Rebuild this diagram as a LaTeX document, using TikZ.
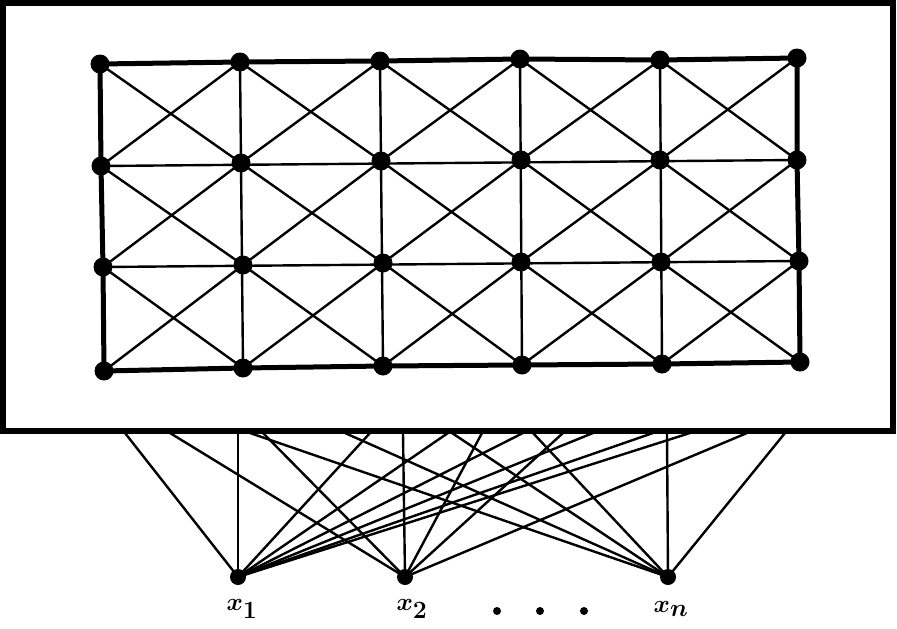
\documentclass[tikz,border=0pt]{standalone}
\begin{document}
\begin{tikzpicture}[x=1pt,y=-1pt,
  gdot/.style={circle,fill=black,inner sep=0pt,minimum size=19pt},
  idot/.style={circle,fill=black,inner sep=0pt,minimum size=16pt},
  sdot/.style={circle,fill=black,inner sep=0pt,minimum size=8pt},
  thin line/.style={line width=2.4pt},
  thick line/.style={line width=5pt},
  lab/.style={font=\fontsize{40}{40}\selectfont\boldmath,inner sep=0pt}]
\useasboundingbox (0,0) rectangle (897,629);
% outer box
\draw[line width=5.5pt] (3,3) rectangle (893,431);
% grid nodes
\foreach \r/\c/\x/\y in {
 1/1/100/64, 1/2/240/62, 1/3/380/61, 1/4/520/59, 1/5/660/60, 1/6/797/58,
 2/1/101/166, 2/2/241/163, 2/3/381/161, 2/4/521/160, 2/5/660/160, 2/6/797/160,
 3/1/103/267, 3/2/243/265, 3/3/383/263, 3/4/521/262, 3/5/661/262, 3/6/799/261,
 4/1/104/371, 4/2/243/368, 4/3/383/366, 4/4/522/365, 4/5/662/364, 4/6/800/362}
 {\coordinate (c-\r-\c) at (\x,\y);}
% inner horizontal lines
\foreach \r in {2,3}{
  \draw[thin line] (c-\r-1) -- (c-\r-6);}
% inner vertical lines
\foreach \c in {2,3,4,5}{
  \draw[thin line] (c-1-\c) -- (c-4-\c);}
% diagonals
\foreach \r [evaluate=\r as \rn using int(\r+1)] in {1,2,3}{
  \foreach \c [evaluate=\c as \cn using int(\c+1)] in {1,...,5}{
    \draw[thin line] (c-\r-\c) -- (c-\rn-\cn);
    \draw[thin line] (c-\rn-\c) -- (c-\r-\cn);
  }}
% thick border of grid
\draw[thick line] (c-1-1) -- (c-1-2) -- (c-1-3) -- (c-1-4) -- (c-1-5) -- (c-1-6)
  -- (c-2-6) -- (c-3-6) -- (c-4-6) -- (c-4-5) -- (c-4-4) -- (c-4-3) -- (c-4-2) -- (c-4-1)
  -- (c-3-1) -- (c-2-1) -- cycle;
\foreach \r in {1,2,3,4}{\foreach \c in {1,...,6}{
  \node[gdot] (g-\r-\c) at (c-\r-\c) {};}}
% input nodes
\node[idot] (x1) at (238,577) {};
\node[idot] (x2) at (405,577) {};
\node[idot] (xn) at (668,577) {};
% attachment points on bottom of box
\foreach \x in {125,170,238,250,263,345,370,403,448,452,482,523,533,563,593,653,667,690,747,785}
  {\coordinate (b\x) at (\x,433);}
\foreach \x in {125,238,370,448,523,593,653,690}{\draw[thin line] (x1.center) -- (b\x);}
\foreach \x in {170,263,403,482,563,747}{\draw[thin line] (x2.center) -- (b\x);}
\foreach \x in {250,345,452,533,667,785}{\draw[thin line] (xn.center) -- (b\x);}
% labels
\node[lab] (l1) at (242,609) {$x_1$};
\node[lab] (l2) at (412,609) {$x_2$};
\node[lab] (ln) at (671,609) {$x_n$};
\node[sdot] (d1) at (497,611) {};
\node[sdot] (d2) at (540,611) {};
\node[sdot] (d3) at (584,611) {};
\end{tikzpicture}
\end{document}
